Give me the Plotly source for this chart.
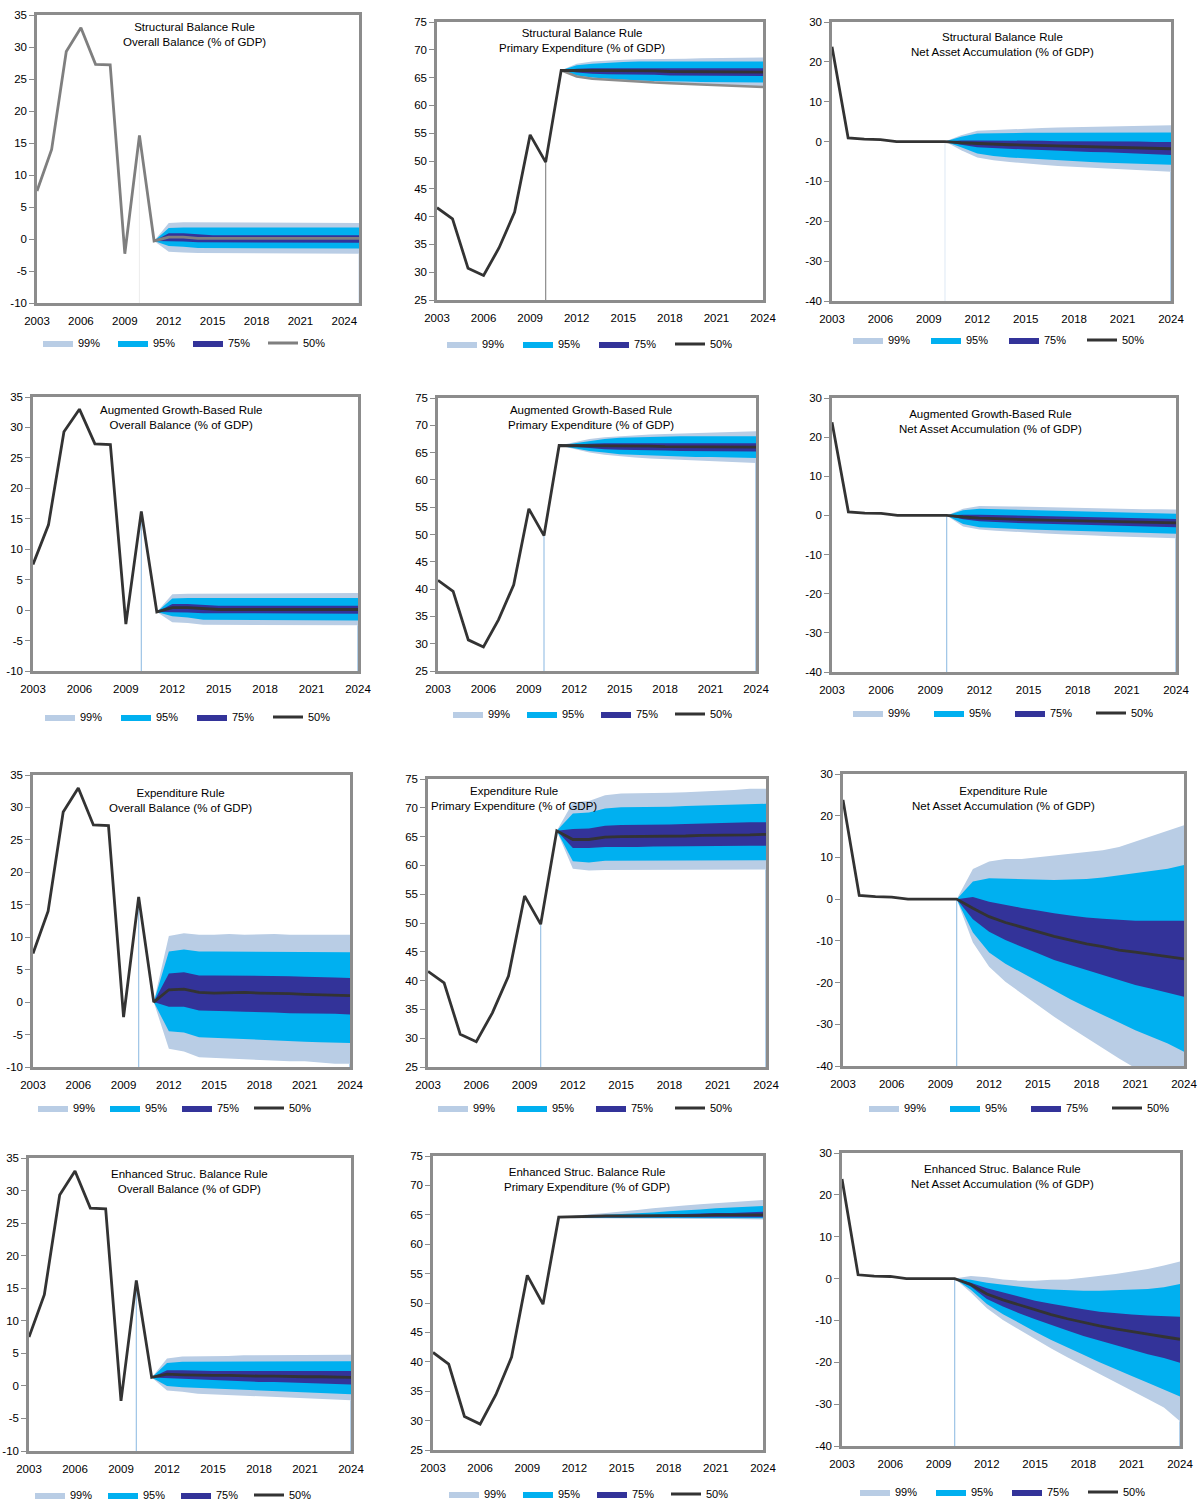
import plotly.graph_objects as go

# ---------------- DATA ----------------
years_first = 2003
last_actual_year = 2010
x_tick_years = [2003, 2006, 2009, 2012, 2015, 2018, 2021, 2024]
ob_ticks = [-10, -5, 0, 5, 10, 15, 20, 25, 30, 35]
pe_ticks = [25, 30, 35, 40, 45, 50, 55, 60, 65, 70, 75]
naa_ticks = [-40, -30, -20, -10, 0, 10, 20, 30]

ob_hist = [7.5, 14.0, 29.3, 33.0, 27.3, 27.2, -2.3, 16.2]    # 2003-2010
pe_hist = [41.6, 39.6, 30.7, 29.4, 34.4, 40.8, 54.7, 49.8]   # 2003-2010
naa_hist = [23.8, 0.9, 0.6, 0.5, 0.0, 0.0, 0.0]              # 2003-2009

# Structural Balance Rule - Overall Balance (2011-2025)
sb_ob_p50 = [-0.3, 0.3, 0.3, 0.1, 0.1, 0.1, 0.1, 0.1, 0.1, 0.1, 0.1, 0.1, 0.1, 0.1, 0.1]
sb_ob_u75 = [-0.3, 0.9, 0.9, 0.7, 0.6, 0.6, 0.6, 0.6, 0.6, 0.6, 0.6, 0.6, 0.6, 0.6, 0.6]
sb_ob_l75 = [-0.3, -0.4, -0.4, -0.5, -0.6, -0.6, -0.6, -0.6, -0.6, -0.6, -0.6, -0.6, -0.6, -0.6, -0.6]
sb_ob_u95 = [-0.3, 1.7, 1.8, 1.8, 1.8, 1.8, 1.8, 1.8, 1.8, 1.8, 1.8, 1.8, 1.8, 1.8, 1.8]
sb_ob_l95 = [-0.3, -1.1, -1.2, -1.4, -1.5, -1.5, -1.5, -1.5, -1.5, -1.5, -1.5, -1.5, -1.5, -1.5, -1.5]
sb_ob_u99 = [-0.3, 2.5, 2.6, 2.6, 2.6, 2.6, 2.6, 2.6, 2.6, 2.6, 2.6, 2.5, 2.5, 2.5, 2.5]
sb_ob_l99 = [-0.3, -2.0, -2.1, -2.2, -2.2, -2.2, -2.2, -2.2, -2.2, -2.2, -2.2, -2.3, -2.3, -2.3, -2.3]

# Structural Balance Rule - Primary Expenditure (2011-2024)
sb_pe_p50 = [66.3, 66.3, 66.2, 66.2, 66.2, 66.2, 66.2, 66.1, 66.1, 66.1, 66.1, 66.1, 66.0, 66.0]
sb_pe_u75 = [66.3, 66.6, 66.7, 66.7, 66.7, 66.7, 66.7, 66.7, 66.7, 66.7, 66.7, 66.7, 66.7, 66.7]
sb_pe_l75 = [66.3, 65.9, 65.7, 65.6, 65.5, 65.5, 65.5, 65.4, 65.4, 65.4, 65.3, 65.3, 65.3, 65.3]
sb_pe_u95 = [66.3, 67.2, 67.5, 67.7, 67.8, 67.9, 67.9, 67.9, 67.9, 67.9, 67.9, 67.9, 67.9, 67.9]
sb_pe_l95 = [66.3, 65.4, 65.0, 64.8, 64.6, 64.5, 64.4, 64.3, 64.3, 64.2, 64.2, 64.2, 64.1, 64.1]
sb_pe_u99 = [66.3, 67.5, 67.9, 68.1, 68.2, 68.3, 68.3, 68.4, 68.4, 68.5, 68.5, 68.5, 68.6, 68.6]
sb_pe_l99 = [66.3, 65.2, 64.8, 64.6, 64.4, 64.3, 64.1, 64.0, 63.9, 63.8, 63.7, 63.6, 63.5, 63.3]

# Structural Balance Rule - Net Asset Accumulation (2010-2024)
sb_naa_p50 = [0.0, -0.3, -0.5, -0.6, -0.8, -0.9, -1.0, -1.1, -1.2, -1.3, -1.4, -1.5, -1.6, -1.7, -1.8]
sb_naa_u75 = [0.0, 0.3, 0.3, 0.3, 0.2, 0.2, 0.2, 0.1, 0.1, 0.1, 0.0, 0.0, 0.0, -0.1, -0.1]
sb_naa_l75 = [0.0, -0.8, -1.4, -1.6, -1.8, -2.0, -2.1, -2.3, -2.4, -2.6, -2.7, -2.9, -3.0, -3.2, -3.4]
sb_naa_u95 = [0.0, 1.2, 2.0, 2.1, 2.2, 2.2, 2.2, 2.2, 2.2, 2.2, 2.3, 2.3, 2.3, 2.3, 2.3]
sb_naa_l95 = [0.0, -1.4, -3.0, -3.6, -4.0, -4.3, -4.5, -4.7, -4.9, -5.1, -5.3, -5.4, -5.6, -5.7, -5.8]
sb_naa_u99 = [0.0, 1.6, 2.7, 2.9, 3.1, 3.2, 3.4, 3.5, 3.6, 3.7, 3.8, 3.9, 4.0, 4.0, 4.1]
sb_naa_l99 = [0.0, -2.2, -4.0, -4.7, -5.1, -5.5, -5.8, -6.1, -6.4, -6.6, -6.8, -7.0, -7.2, -7.4, -7.6]

# Augmented Growth-Based Rule - Overall Balance (2011-2024)
ag_ob_p50 = [-0.3, 0.4, 0.4, 0.2, 0.1, 0.1, 0.1, 0.1, 0.1, 0.1, 0.1, 0.1, 0.1, 0.1]
ag_ob_u75 = [-0.3, 1.0, 1.0, 0.8, 0.7, 0.7, 0.7, 0.7, 0.7, 0.7, 0.7, 0.7, 0.7, 0.7]
ag_ob_l75 = [-0.3, -0.3, -0.4, -0.5, -0.6, -0.6, -0.6, -0.6, -0.6, -0.6, -0.6, -0.6, -0.6, -0.6]
ag_ob_u95 = [-0.3, 1.9, 2.0, 2.0, 2.0, 2.0, 2.0, 2.0, 2.0, 2.0, 2.0, 2.0, 2.0, 2.0]
ag_ob_l95 = [-0.3, -1.0, -1.2, -1.6, -1.7, -1.7, -1.7, -1.7, -1.7, -1.7, -1.7, -1.7, -1.7, -1.7]
ag_ob_u99 = [-0.3, 2.6, 2.7, 2.7, 2.8, 2.8, 2.8, 2.8, 2.8, 2.8, 2.8, 2.8, 2.8, 2.8]
ag_ob_l99 = [-0.3, -2.0, -2.1, -2.4, -2.4, -2.4, -2.4, -2.5, -2.5, -2.5, -2.5, -2.5, -2.5, -2.5]

# Augmented Growth-Based Rule - Primary Expenditure (2011-2024)
ag_pe_p50 = [66.3, 66.3, 66.3, 66.2, 66.2, 66.2, 66.2, 66.1, 66.1, 66.1, 66.1, 66.0, 66.0, 66.0]
ag_pe_u75 = [66.3, 66.5, 66.6, 66.7, 66.7, 66.7, 66.7, 66.7, 66.7, 66.7, 66.7, 66.7, 66.7, 66.7]
ag_pe_l75 = [66.3, 66.0, 65.8, 65.6, 65.5, 65.5, 65.4, 65.4, 65.3, 65.3, 65.3, 65.3, 65.2, 65.2]
ag_pe_u95 = [66.3, 66.7, 67.2, 67.5, 67.7, 67.8, 67.9, 67.9, 68.0, 68.0, 68.0, 68.0, 68.0, 68.0]
ag_pe_l95 = [66.3, 65.8, 65.3, 65.0, 64.7, 64.6, 64.5, 64.4, 64.3, 64.2, 64.2, 64.1, 64.1, 64.0]
ag_pe_u99 = [66.3, 66.9, 67.5, 67.8, 68.0, 68.2, 68.3, 68.4, 68.5, 68.6, 68.7, 68.8, 68.8, 68.9]
ag_pe_l99 = [66.3, 65.6, 65.0, 64.6, 64.3, 64.1, 63.9, 63.8, 63.6, 63.5, 63.4, 63.3, 63.2, 63.1]

# Augmented Growth-Based Rule - Net Asset Accumulation (2010-2024)
ag_naa_p50 = [0.0, -0.4, -0.7, -0.8, -1.0, -1.1, -1.2, -1.3, -1.4, -1.5, -1.6, -1.7, -1.8, -1.9, -1.9]
ag_naa_u75 = [0.0, 0.2, 0.2, 0.1, 0.0, -0.1, -0.2, -0.3, -0.4, -0.5, -0.6, -0.7, -0.8, -0.8, -0.9]
ag_naa_l75 = [0.0, -1.0, -1.5, -1.7, -1.9, -2.0, -2.2, -2.3, -2.4, -2.5, -2.6, -2.7, -2.8, -2.9, -3.0]
ag_naa_u95 = [0.0, 1.3, 1.7, 1.6, 1.5, 1.4, 1.3, 1.2, 1.1, 1.0, 0.9, 0.8, 0.6, 0.5, 0.4]
ag_naa_l95 = [0.0, -2.2, -3.0, -3.2, -3.4, -3.6, -3.7, -3.8, -4.0, -4.1, -4.2, -4.3, -4.5, -4.6, -4.7]
ag_naa_u99 = [0.0, 1.7, 2.4, 2.4, 2.3, 2.2, 2.1, 2.0, 1.9, 1.9, 1.8, 1.7, 1.6, 1.6, 1.5]
ag_naa_l99 = [0.0, -2.8, -3.6, -3.9, -4.2, -4.4, -4.6, -4.8, -5.0, -5.1, -5.3, -5.4, -5.6, -5.7, -5.8]

# Expenditure Rule - Overall Balance (2011-2024)
ex_ob_p50 = [0.0, 1.9, 2.0, 1.5, 1.4, 1.5, 1.5, 1.4, 1.4, 1.3, 1.2, 1.1, 1.1, 1.0]
ex_ob_u75 = [0.0, 4.4, 4.6, 4.1, 4.1, 4.1, 4.1, 4.1, 4.0, 4.0, 3.9, 3.9, 3.8, 3.7]
ex_ob_l75 = [0.0, -0.7, -0.7, -1.3, -1.4, -1.4, -1.5, -1.6, -1.6, -1.7, -1.7, -1.8, -1.8, -1.9]
ex_ob_u95 = [0.0, 7.8, 8.1, 7.8, 7.8, 7.8, 7.8, 7.8, 7.8, 7.8, 7.8, 7.8, 7.7, 7.7]
ex_ob_l95 = [0.0, -4.5, -4.7, -5.4, -5.6, -5.6, -5.7, -5.8, -5.9, -6.0, -6.1, -6.2, -6.3, -6.3]
ex_ob_u99 = [0.0, 10.2, 10.6, 10.4, 10.4, 10.5, 10.4, 10.5, 10.5, 10.4, 10.4, 10.4, 10.4, 10.4]
ex_ob_l99 = [0.0, -7.2, -7.6, -8.5, -8.6, -8.7, -8.7, -8.9, -9.0, -9.1, -9.1, -9.3, -9.5, -9.5]

# Expenditure Rule - Primary Expenditure (2011-2024)
ex_pe_p50 = [66.0, 64.5, 64.5, 64.9, 65.0, 65.0, 65.0, 65.1, 65.1, 65.2, 65.2, 65.3, 65.3, 65.4]
ex_pe_u75 = [66.0, 66.3, 66.4, 66.9, 67.0, 67.0, 67.0, 67.1, 67.2, 67.3, 67.3, 67.4, 67.5, 67.5]
ex_pe_l75 = [66.0, 63.0, 63.0, 63.2, 63.2, 63.2, 63.3, 63.3, 63.3, 63.3, 63.4, 63.4, 63.4, 63.4]
ex_pe_u95 = [66.0, 69.0, 69.2, 69.9, 70.1, 70.1, 70.1, 70.2, 70.3, 70.4, 70.5, 70.6, 70.7, 70.7]
ex_pe_l95 = [66.0, 60.7, 60.5, 60.8, 60.8, 60.8, 60.8, 60.8, 60.8, 60.9, 60.9, 60.9, 60.9, 60.9]
ex_pe_u99 = [66.0, 70.9, 71.2, 72.2, 72.5, 72.5, 72.5, 72.6, 72.7, 72.8, 73.0, 73.1, 73.3, 73.3]
ex_pe_l99 = [66.0, 59.4, 59.1, 59.2, 59.2, 59.2, 59.2, 59.2, 59.2, 59.2, 59.3, 59.3, 59.3, 59.3]

# Expenditure Rule - Net Asset Accumulation (2010-2024)
ex_naa_p50 = [0.0, -2.2, -4.2, -5.6, -6.7, -7.8, -8.9, -9.8, -10.7, -11.4, -12.2, -12.7, -13.2, -13.7, -14.3]
ex_naa_u75 = [0.0, 0.5, -0.6, -1.4, -2.1, -2.7, -3.4, -3.9, -4.4, -4.7, -5.0, -5.2, -5.2, -5.2, -5.2]
ex_naa_l75 = [0.0, -4.8, -7.8, -9.8, -11.4, -13.0, -14.6, -15.9, -17.1, -18.2, -19.4, -20.6, -21.5, -22.4, -23.4]
ex_naa_u95 = [0.0, 4.2, 5.0, 4.9, 4.7, 4.6, 4.6, 4.7, 4.8, 5.2, 5.7, 6.2, 6.8, 7.3, 8.2]
ex_naa_l95 = [0.0, -8.0, -12.8, -15.5, -17.6, -19.8, -21.9, -24.0, -25.9, -27.8, -29.6, -31.4, -33.0, -34.6, -36.6]
ex_naa_u99 = [0.0, 7.2, 9.0, 9.6, 9.6, 10.0, 10.4, 10.8, 11.2, 11.7, 12.5, 13.8, 15.2, 16.5, 17.7]
ex_naa_l99 = [0.0, -10.4, -16.2, -19.8, -22.6, -25.4, -28.2, -30.8, -33.4, -35.8, -38.2, -40.5, -42.5, -44.5, -46.5]

# Enhanced Struc. Balance Rule - Overall Balance (2011-2024)
en_ob_p50 = [1.3, 1.8, 1.7, 1.6, 1.6, 1.6, 1.5, 1.5, 1.5, 1.4, 1.4, 1.4, 1.3, 1.3]
en_ob_u75 = [1.3, 2.4, 2.4, 2.3, 2.3, 2.3, 2.3, 2.3, 2.3, 2.3, 2.3, 2.3, 2.3, 2.3]
en_ob_l75 = [1.3, 1.1, 1.0, 0.9, 0.8, 0.8, 0.7, 0.6, 0.6, 0.5, 0.4, 0.4, 0.3, 0.2]
en_ob_u95 = [1.3, 3.5, 3.7, 3.7, 3.7, 3.7, 3.7, 3.7, 3.7, 3.7, 3.7, 3.8, 3.8, 3.8]
en_ob_l95 = [1.3, 0.0, -0.2, -0.4, -0.5, -0.6, -0.7, -0.8, -0.9, -1.0, -1.1, -1.2, -1.2, -1.3]
en_ob_u99 = [1.3, 4.2, 4.5, 4.5, 4.6, 4.6, 4.7, 4.7, 4.7, 4.7, 4.7, 4.8, 4.8, 4.8]
en_ob_l99 = [1.3, -0.7, -0.9, -1.2, -1.3, -1.4, -1.5, -1.7, -1.8, -1.9, -2.0, -2.1, -2.1, -2.2]

# Enhanced Struc. Balance Rule - Primary Expenditure (2011-2024)
en_pe_p50 = [64.6, 64.7, 64.7, 64.8, 64.8, 64.8, 64.9, 64.9, 64.9, 64.9, 65.0, 65.0, 65.0, 65.0]
en_pe_u75 = [64.6, 64.7, 64.8, 64.8, 64.9, 64.9, 65.0, 65.1, 65.1, 65.2, 65.3, 65.3, 65.4, 65.5]
en_pe_l75 = [64.6, 64.6, 64.6, 64.6, 64.6, 64.6, 64.6, 64.6, 64.6, 64.6, 64.6, 64.6, 64.6, 64.6]
en_pe_u95 = [64.6, 64.8, 64.9, 65.0, 65.1, 65.3, 65.4, 65.6, 65.7, 65.9, 66.1, 66.2, 66.4, 66.5]
en_pe_l95 = [64.6, 64.5, 64.5, 64.5, 64.4, 64.4, 64.4, 64.4, 64.4, 64.4, 64.4, 64.4, 64.4, 64.4]
en_pe_u99 = [64.6, 64.9, 65.1, 65.3, 65.5, 65.8, 66.1, 66.4, 66.6, 66.8, 67.0, 67.2, 67.4, 67.5]
en_pe_l99 = [64.6, 64.4, 64.4, 64.4, 64.3, 64.3, 64.3, 64.3, 64.3, 64.3, 64.3, 64.3, 64.3, 64.2]

# Enhanced Struc. Balance Rule - Net Asset Accumulation (2010-2024)
en_naa_p50 = [0.0, -1.4, -3.7, -5.1, -6.3, -7.5, -8.6, -9.6, -10.5, -11.3, -12.0, -12.7, -13.3, -13.9, -14.5]
en_naa_u75 = [0.0, -1.0, -2.3, -3.3, -4.3, -5.3, -6.0, -6.7, -7.3, -7.9, -8.3, -8.6, -8.8, -9.0, -9.1]
en_naa_l75 = [0.0, -1.9, -4.9, -6.7, -8.3, -9.7, -11.1, -12.4, -13.7, -14.9, -16.0, -17.0, -18.1, -19.0, -20.1]
en_naa_u95 = [0.0, -0.3, -1.0, -1.5, -2.0, -2.4, -2.6, -2.8, -2.9, -2.9, -2.8, -2.7, -2.5, -2.1, -1.3]
en_naa_l95 = [0.0, -2.7, -6.1, -8.5, -10.7, -12.7, -14.7, -16.4, -18.2, -20.0, -21.7, -23.3, -24.9, -26.5, -28.2]
en_naa_u99 = [0.0, 0.6, 0.3, -0.2, -0.5, -0.5, -0.3, -0.2, 0.2, 0.6, 1.1, 1.7, 2.3, 3.1, 4.1]
en_naa_l99 = [0.0, -3.3, -7.1, -9.9, -12.3, -14.5, -16.7, -18.8, -20.9, -22.9, -24.9, -26.8, -28.8, -30.8, -34.1]

rule_names = ["Structural Balance Rule", "Augmented Growth-Based Rule",
              "Expenditure Rule", "Enhanced Struc. Balance Rule"]
var_names = ["Overall Balance (% of GDP)", "Primary Expenditure (% of GDP)",
             "Net Asset Accumulation (% of GDP)"]

panels = [
    (ob_hist, sb_ob_p50, sb_ob_u75, sb_ob_l75, sb_ob_u95, sb_ob_l95, sb_ob_u99, sb_ob_l99),
    (pe_hist, sb_pe_p50, sb_pe_u75, sb_pe_l75, sb_pe_u95, sb_pe_l95, sb_pe_u99, sb_pe_l99),
    (naa_hist, sb_naa_p50, sb_naa_u75, sb_naa_l75, sb_naa_u95, sb_naa_l95, sb_naa_u99, sb_naa_l99),
    (ob_hist, ag_ob_p50, ag_ob_u75, ag_ob_l75, ag_ob_u95, ag_ob_l95, ag_ob_u99, ag_ob_l99),
    (pe_hist, ag_pe_p50, ag_pe_u75, ag_pe_l75, ag_pe_u95, ag_pe_l95, ag_pe_u99, ag_pe_l99),
    (naa_hist, ag_naa_p50, ag_naa_u75, ag_naa_l75, ag_naa_u95, ag_naa_l95, ag_naa_u99, ag_naa_l99),
    (ob_hist, ex_ob_p50, ex_ob_u75, ex_ob_l75, ex_ob_u95, ex_ob_l95, ex_ob_u99, ex_ob_l99),
    (pe_hist, ex_pe_p50, ex_pe_u75, ex_pe_l75, ex_pe_u95, ex_pe_l95, ex_pe_u99, ex_pe_l99),
    (naa_hist, ex_naa_p50, ex_naa_u75, ex_naa_l75, ex_naa_u95, ex_naa_l95, ex_naa_u99, ex_naa_l99),
    (ob_hist, en_ob_p50, en_ob_u75, en_ob_l75, en_ob_u95, en_ob_l95, en_ob_u99, en_ob_l99),
    (pe_hist, en_pe_p50, en_pe_u75, en_pe_l75, en_pe_u95, en_pe_l95, en_pe_u99, en_pe_l99),
    (naa_hist, en_naa_p50, en_naa_u75, en_naa_l75, en_naa_u95, en_naa_l95, en_naa_u99, en_naa_l99),
]
y_ticks_by_var = [ob_ticks, pe_ticks, naa_ticks]

# ---------------- STYLE / LAYOUT ----------------
W, H = 1199, 1502
FONT = "Liberation Sans, Arial, sans-serif"
TICK_SIZE = 11.5
TITLE_SIZE = 11.5
LEG_SIZE = 11
C99, C95, C75 = "#B9CDE5", "#00B0F0", "#333399"
FRAME = "#8C8C8C"
DARK = "#333333"
VBLUE = "#9DC3E6"

# plot boxes in pixels: left, right, top, bottom
boxes = [(37, 359, 15, 303), (437, 763, 22, 300), (832, 1171, 22, 301),
         (33, 358, 397, 671), (438, 756, 398, 671), (832, 1176, 398, 672),
         (33, 350, 775, 1067), (428, 766, 779, 1067), (843, 1184, 774, 1066),
         (29, 351, 1158, 1451), (433, 763, 1156, 1450), (842, 1180, 1153, 1446)]
x_ends = [2025] + [2024] * 11
titles_xy = [(194, 34), (582, 40.5), (1002, 45), (181, 417), (591, 418), (990, 421),
             (180, 800), (514, 798.5), (1003, 798.5), (189, 1181), (587, 1179.5), (1002, 1176.5)]
# first swatch left, step between entries, center y
legends_pos = [(61, 75, 343), (465, 76, 344), (871, 78, 340),
               (63, 76, 717), (471, 74, 714), (871, 81, 713),
               (56, 72, 1108), (456, 79, 1108), (887, 81, 1108),
               (53, 73, 1495), (467, 74, 1494), (878, 76, 1492)]
line_colors = ["#7F7F7F"] + [DARK] * 11
vline_colors = ["#EEEEEE", "#8C8C8C", "#E3ECF6", VBLUE, VBLUE, VBLUE,
                VBLUE, VBLUE, VBLUE, VBLUE, None, VBLUE]
edge_colors = ["#DDE7F3", None, VBLUE, VBLUE, VBLUE, VBLUE,
               VBLUE, VBLUE, VBLUE, VBLUE, None, VBLUE]

fig = go.Figure()
layout = dict(template="none", width=W, height=H,
              margin=dict(l=0, r=0, t=0, b=0, autoexpand=False),
              paper_bgcolor="white", plot_bgcolor="white",
              font=dict(family=FONT, size=TICK_SIZE, color="black"),
              hovermode=False, annotations=[], shapes=[])

for i, data in enumerate(panels):
    hist, p50, u75, l75, u95, l95, u99, l99 = data
    n = i + 1
    sfx = "" if n == 1 else str(n)
    xa, ya, leg = "x" + sfx, "y" + sfx, "legend" + sfx
    row, col = divmod(i, 3)
    yt = y_ticks_by_var[col]
    hist_years = list(range(years_first, years_first + len(hist)))
    fan_years = list(range(hist_years[-1] + 1, hist_years[-1] + 1 + len(p50)))
    all_years = hist_years + fan_years
    all_vals = hist + p50

    for name, up, lo, colr in (("99%", u99, l99, C99), ("95%", u95, l95, C95), ("75%", u75, l75, C75)):
        fig.add_trace(go.Scatter(
            x=fan_years + fan_years[::-1], y=up + lo[::-1], mode="lines",
            fill="toself", fillcolor=colr, line=dict(width=0, color=colr),
            name=name, legend=leg, xaxis=xa, yaxis=ya, hoverinfo="skip"))
    if n == 2:
        fig.add_trace(go.Scatter(x=fan_years, y=l99, mode="lines",
                                 line=dict(color="#8C8C8C", width=2.5),
                                 showlegend=False, xaxis=xa, yaxis=ya, hoverinfo="skip"))
    if vline_colors[i]:
        v = all_vals[all_years.index(last_actual_year)]
        fig.add_trace(go.Scatter(x=[last_actual_year, last_actual_year], y=[yt[0], v],
                                 mode="lines", line=dict(color=vline_colors[i], width=1.2),
                                 showlegend=False, xaxis=xa, yaxis=ya, hoverinfo="skip"))
    fig.add_trace(go.Scatter(x=all_years, y=all_vals, mode="lines",
                             line=dict(color=line_colors[i], width=2.8),
                             name="50%", legend=leg, xaxis=xa, yaxis=ya, hoverinfo="skip"))

    L, R, T, B = boxes[i]
    layout["xaxis" + sfx] = dict(
        domain=[L / W, R / W], range=[years_first, x_ends[i]], anchor=ya, automargin=False,
        tickvals=x_tick_years, ticktext=[str(t) for t in x_tick_years],
        ticks="outside", ticklen=5, tickcolor="rgba(0,0,0,0)",
        showline=True, linecolor=FRAME, linewidth=2.5,
        mirror=True, showgrid=False, zeroline=False, fixedrange=True,
        tickfont=dict(family=FONT, size=TICK_SIZE, color="black"))
    layout["yaxis" + sfx] = dict(
        domain=[1 - B / H, 1 - T / H], range=[yt[0], yt[-1]], anchor=xa, automargin=False,
        tickvals=yt, ticktext=[str(t) for t in yt],
        ticks="outside", ticklen=5, tickcolor=FRAME, tickwidth=1,
        showline=True, linecolor=FRAME, linewidth=2.5, mirror=True,
        showgrid=False, zeroline=False, fixedrange=True,
        tickfont=dict(family=FONT, size=TICK_SIZE, color="black"))

    if edge_colors[i] and l99[-1] > yt[0]:
        layout["shapes"].append(dict(type="line", xref=xa, yref=ya, layer="above",
                                     x0=fan_years[-1], x1=fan_years[-1], y0=yt[0], y1=l99[-1],
                                     line=dict(color=edge_colors[i], width=1.5)))

    tx, ty = titles_xy[i]
    layout["annotations"].append(dict(
        text=rule_names[row] + "<br>" + var_names[col], x=tx / W, y=1 - ty / H,
        xref="paper", yref="paper", xanchor="center", yanchor="middle",
        showarrow=False, font=dict(family=FONT, size=TITLE_SIZE, color="black")))

    sx, step, ly = legends_pos[i]
    layout[leg] = dict(orientation="h", x=(sx - 23) / W, y=1 - ly / H,
                       xanchor="left", yanchor="middle", xref="paper", yref="paper",
                       entrywidth=step - 45, entrywidthmode="pixels",
                       bgcolor="rgba(0,0,0,0)", borderwidth=0, traceorder="normal",
                       font=dict(family=FONT, size=LEG_SIZE, color="black"))

fig.update_layout(**layout)
fig.write_html("out.html", config={"displayModeBar": False},
               post_script="document.body.style.margin='0';document.body.style.padding='0';")
